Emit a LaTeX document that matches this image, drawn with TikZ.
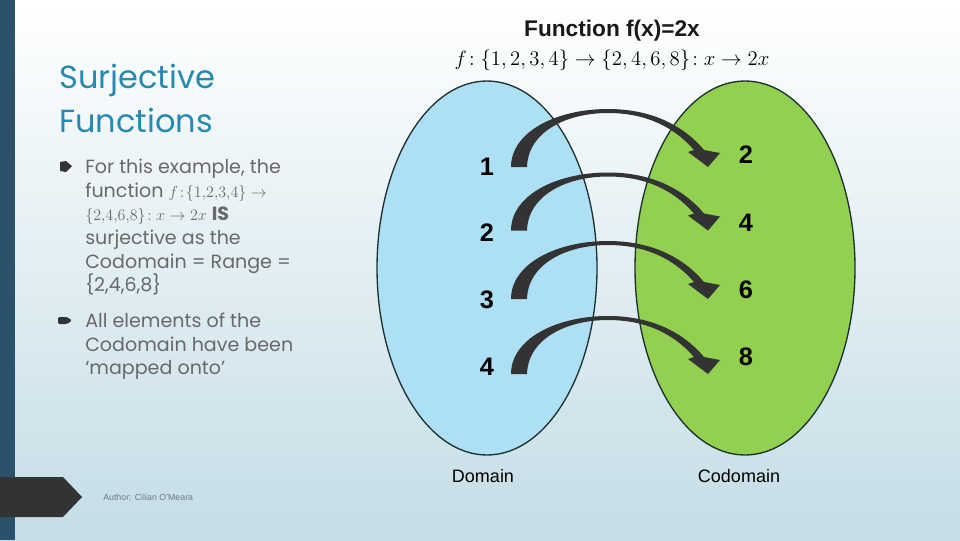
\documentclass[tikz,border=0pt]{standalone}
\usepackage{fontspec}
\setmainfont{Liberation Sans}
\newfontfamily\gothic{Poppins}
\usetikzlibrary{shapes.geometric}
\definecolor{bgbot}{RGB}{196,221,230}
\definecolor{barcol}{RGB}{43,82,108}
\definecolor{darkgray}{RGB}{51,51,51}
\definecolor{authgray}{RGB}{110,120,128}
\definecolor{titleblue}{RGB}{38,137,178}
\definecolor{textgray}{RGB}{105,105,105}
\definecolor{blueF}{RGB}{173,224,245}
\definecolor{greenF}{RGB}{146,208,80}
\definecolor{edgecol}{RGB}{30,48,48}
\definecolor{arrowcol}{RGB}{51,51,51}
\newcommand\bmath[1]{{\fontsize{13.2}{14}\selectfont\(#1\)}}
\tikzset{
  setshape/.style={ellipse, draw=edgecol, line width=1pt, minimum width=165pt, minimum height=280.5pt, inner sep=0pt},
  num/.style={font=\bfseries\fontsize{19}{22}\selectfont, inner sep=0pt},
  lab/.style={font=\fontsize{13.5}{16}\selectfont, inner sep=0pt},
  bline/.style={anchor=base west, inner sep=0pt, text height=10pt, text depth=3pt, text=textgray, font=\gothic\fontsize{14.3}{16}\selectfont},
  ttl/.style={anchor=base west, inner sep=0pt, text=titleblue, font=\gothic\fontsize{24}{28}\selectfont},
  maparr/.pic={
    \fill[arrowcol] (0,0) .. controls (0,-35) and (45,-58) .. (97,-58)
      .. controls (140,-58) and (172,-42) .. (193,-17) -- (209,-14) -- (197,0) -- (177,-15) -- (183,-17)
      .. controls (163,-40) and (135,-54) .. (97,-54)
      .. controls (55,-54) and (17,-35) .. (16,0) -- cycle;
  }
}
\begin{document}
\begin{tikzpicture}[x=0.75pt,y=-0.75pt]
\useasboundingbox (0,0) rectangle (960,540);
\shade[top color=white, bottom color=bgbot] (0,0) rectangle (960,540);
\fill[barcol] (0,0) rectangle (15,540);
\fill[darkgray] (0,477) -- (63,477) -- (82,497) -- (63,517) -- (0,517) -- cycle;
\node[anchor=west, inner sep=0pt, text=authgray, font=\fontsize{6.6}{7}\selectfont] (author) at (103,497) {Author: Cilian O’Meara};

% title
\node[ttl] (t1) at (59,88) {Surjective};
\node[ttl] (t2) at (59,132) {Functions};

% bullets
\fill[darkgray] (60,162) -- (66,161) -- (72,166) -- (66,172) -- (60,171) -- cycle;
\fill[darkgray, rounded corners=1pt] (58,317) -- (67,317) -- (72,320.5) -- (67,324) -- (58,324) -- cycle;
\node[bline] (b1) at (85,173) {For this example, the};
\node[bline] (b2) at (85,197) {function \bmath{f\!:\!\{1,\!2,\!3,\!4\}\rightarrow}};
\node[bline] (b3) at (85,220) {\bmath{\{2,\!4,\!6,\!8\}\!:x\rightarrow 2x} \textbf{IS}};
\node[bline] (b4) at (85,244) {surjective as the};
\node[bline] (b5) at (85,268) {Codomain = Range =};
\node[bline] (b6) at (85,291) {\{2,4,6,8\}};
\node[bline] (c1) at (85,327) {All elements of the};
\node[bline] (c2) at (85,351) {Codomain have been};
\node[bline] (c3) at (85,374) {‘mapped onto’};

% heading
\node[inner sep=0pt, font=\bfseries\fontsize{17}{20}\selectfont, text=black!90] (head) at (612,31) {Function f(x)=2x};
\node[inner sep=0pt, font=\fontsize{14.4}{18}\selectfont] (fdef) at (612,60) {\resizebox{236pt}{!}{\(f\!:\{1,2,3,4\}\rightarrow\{2,4,6,8\}\!:x\rightarrow 2x\)}};

% sets
\node[setshape, fill=blueF] (dom) at (487,268) {};
\node[setshape, fill=greenF] (cod) at (745,268) {};

% elements
\node[num] (l1) at (487,167) {1};
\node[num] (l2) at (487,233) {2};
\node[num] (l3) at (487,300) {3};
\node[num] (l4) at (487,367) {4};
\node[num] (r1) at (746,155) {2};
\node[num] (r2) at (746,223) {4};
\node[num] (r3) at (746,290) {6};
\node[num] (r4) at (746,357) {8};

% mapping arrows
\coordinate (a1) at (511,167);
\coordinate (a2) at (511,230.5);
\coordinate (a3) at (511,299);
\coordinate (a4) at (511,374);
\pic at (a1) {maparr};
\pic at (a2) {maparr};
\pic at (a3) {maparr};
\pic at (a4) {maparr};

\node[lab] (dlab) at (483,476) {Domain};
\node[lab] (clab) at (739,476) {Codomain};
\end{tikzpicture}
\end{document}
